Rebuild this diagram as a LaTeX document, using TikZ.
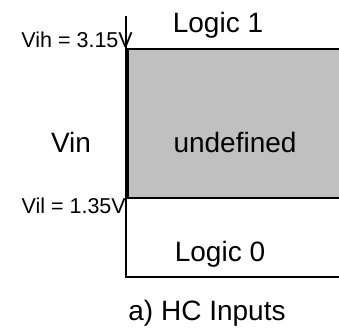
\documentclass[tikz,border=0pt]{standalone}
\usepackage{fontspec}
\setmainfont{Liberation Sans}
\definecolor{undefgray}{HTML}{C0C0C0}
\begin{document}
\begin{tikzpicture}[x=1pt,y=1pt,
  big/.style={inner sep=0pt,anchor=base,font=\fontsize{28}{31}\selectfont},
  small/.style={inner sep=0pt,anchor=base east,font=\fontsize{21.5}{23}\selectfont},
  boxline/.style={line width=2.2pt,line cap=rect}]
\useasboundingbox (0,0) rectangle (339,-329);
% coordinates
\coordinate (axtop) at (126,-16);
\coordinate (hi) at (126,-49);
\coordinate (hiR) at (339,-49);
\coordinate (lo) at (126,-198);
\coordinate (loR) at (339,-198);
\coordinate (bot) at (126,-277);
\coordinate (botR) at (339,-277);
% undefined region
\fill[undefgray] (hi) rectangle (loR);
\draw[line width=1.3pt] (axtop) -- (hi);
\draw[line width=3.5pt] ([xshift=0.8pt]hi) -- ([xshift=0.8pt]lo);
\draw[line width=1.8pt] (lo) -- (bot);
\draw[boxline] (hi) -- (hiR);
\draw[boxline] (lo) -- (loR);
\draw[boxline] (bot) -- (botR);
% texts
\node[big] (l1) at (218,-33) {Logic 1};
\node[big] (und) at (235,-152) {undefined};
\node[big] (vin) at (71,-152) {Vin};
\node[big] (l0) at (220,-261) {Logic 0};
\node[big] (cap) at (207,-320) {a) HC Inputs};
\node[small] (vih) at (133,-48) {Vih = 3.15V};
\node[small] (vil) at (126,-213) {Vil = 1.35V};
\end{tikzpicture}
\end{document}
